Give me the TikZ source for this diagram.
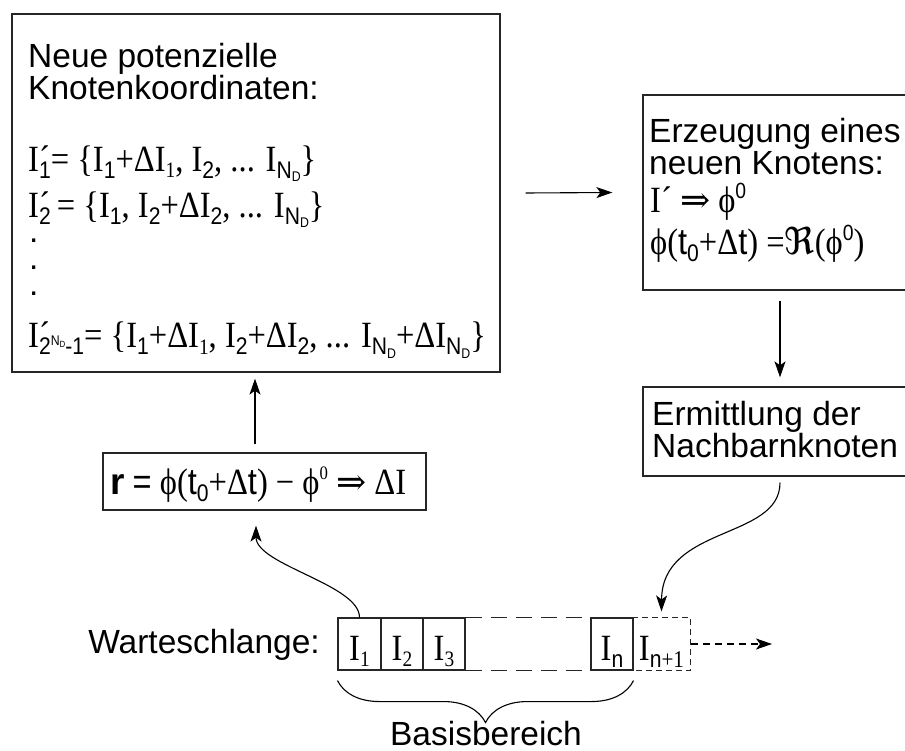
\documentclass[tikz,border=0pt]{standalone}
\usepackage{fontspec}
\setmainfont{Liberation Sans}
\newfontfamily\ser[FakeStretch=0.88]{Liberation Serif}
\newfontfamily\san{Liberation Sans}
\newfontfamily\sanC[FakeStretch=0.88]{Liberation Sans}
\newfontfamily\dvs{DejaVu Serif}
\newfontfamily\dvsans{DejaVu Sans}
\usetikzlibrary{arrows.meta,decorations.pathreplacing,calc}
\newcommand\tsz{\san\fontsize{33.5}{33.5}\selectfont}
\newcommand\fsz{\ser\fontsize{37}{37}\selectfont}
\newcommand\sbS[1]{\raisebox{-7pt}{\sanC\fontsize{24}{24}\selectfont #1}}
\newcommand\sbR[1]{\raisebox{-6pt}{\ser\fontsize{22}{22}\selectfont #1}}
\newcommand\spS[1]{\raisebox{14pt}{\sanC\fontsize{22}{22}\selectfont #1}}
\newcommand\spR[1]{\raisebox{15pt}{\ser\fontsize{19}{19}\selectfont #1}}
\newcommand\iND{\sbS{N\raisebox{-3pt}{\fontsize{14}{14}\selectfont D}}}
\newcommand\iPr[1]{I\rlap{´}\sbS{#1}}
\newcommand\impl{{\dvs\fontsize{36}{36}\selectfont ⇒}}
\newcommand\fraktR{{\dvsans ℜ}}
\newcommand\phiS{ϕ}
\begin{document}
\begin{tikzpicture}[x=1pt,y=-1pt,
  bx/.style={draw=black!85, line width=1.3pt, inner sep=0pt, rectangle},
  tx/.style={inner sep=0pt, anchor=base west, font=\tsz},
  fx/.style={inner sep=0pt, anchor=base west, font=\fsz},
  arr/.style={line width=1.1pt, -{Stealth[length=16pt,width=11pt,inset=4pt]}},
  cell/.style={draw=black!85, line width=1.1pt, inner sep=0pt, minimum height=52pt,
    text height=32pt, text depth=0pt, font=\fsz},
  qdash/.style={draw=black!85, line width=1.1pt, dash pattern=on 16pt off 9pt}]
\useasboundingbox (0,0) rectangle (905,751);

% boxes
\node[bx, minimum width=488pt, minimum height=358pt] (big) at (256,193) {};
\node[bx, minimum width=274pt, minimum height=195pt] (erz) at (780,192.5) {};
\node[bx, minimum width=274pt, minimum height=89pt] (erm) at (780,431.5) {};
\node[bx, minimum width=323pt, minimum height=57pt] (rbox) at (264.5,481.5) {};

% big box text
\node[tx] (t1) at (28,68) {Neue potenzielle};
\node[tx] (t2) at (28,100) {Knotenkoordinaten:};
\node[fx] (f1) at (28,172) {\iPr{1}= \{I\sbS{1}+ΔI\sbR{1}, I\sbS{2}, ... I\iND\}};
\node[fx] (f2) at (28,218) {\iPr{2}\,= \{I\sbS{1}, I\sbS{2}+ΔI\sbS{2}, ... I\iND\}};
\node[tx] (d1) at (29,243) {.};
\node[tx] (d2) at (29,270) {.};
\node[tx] (d3) at (29,296) {.};
\node[fx] (f3) at (28,348) {I\rlap{´}\sbS{2\raisebox{9pt}{\fontsize{14}{14}\selectfont N\raisebox{-2pt}{\fontsize{9}{9}\selectfont D}}-1}= \{I\sbS{1}+ΔI\sbR{1}, I\sbS{2}+ΔI\sbS{2}, ... I\iND+ΔI\iND\}};

% Erzeugung box text
\node[tx] (e1) at (649,143) {Erzeugung eines};
\node[tx] (e2) at (649,175) {neuen Knotens:};
\node[fx] (e3) at (650,213) {I´ \impl{} \phiS\spS{0}};
\node[fx] (e4) at (650,255) {\phiS({\sanC t}\sbS{0}+Δ{\sanC t}) =\fraktR(\phiS\spS{0})};

% Ermittlung box text
\node[tx] (m1) at (652,425) {Ermittlung der};
\node[tx] (m2) at (652,457) {Nachbarnknoten};

% r box text
\node[fx] (rt) at (110,494) {{\san\bfseries r} {\sanC =} \phiS({\sanC t}\sbS{0}+Δ{\sanC t}) − \phiS\spR{0} \impl{} ΔI};

% queue
\node[tx, anchor=base east] (wl) at (320,653) {Warteschlange:};
\node[cell, minimum width=43pt] (q1) at (359.5,644) {I\sbR{1}};
\node[cell, minimum width=42pt] (q2) at (402,644) {I\sbR{2}};
\node[cell, minimum width=42pt] (q3) at (444,644) {I\sbR{3}};
\node[cell, minimum width=42pt] (qn) at (612,644) {I\sbS{n}};
\node[cell, minimum width=57pt, draw=none] (qn1) at (661.5,644) {I\sbS{n{\ser+1}}};
\draw[draw=black!85, line width=1.1pt, dash pattern=on 6pt off 4pt]
  (qn1.north west) -- (qn1.north east) -- (qn1.south east) -- (qn1.south west);
\draw[qdash] (q3.north east) -- (qn.north west);
\draw[qdash] (q3.south east) -- (qn.south west);
\coordinate (qe) at (772,644);
\draw[arr, dash pattern=on 7pt off 5pt] (qn1.east) -- (qe);

% brace
\draw[line width=1.1pt, decorate, decoration={brace, mirror, amplitude=42pt, aspect=0.5}]
  ($(q1.south west)+(0,10)$) -- ($(qn.south east)+(0,10)$);
\node[tx, anchor=base] (bb) at (486,745) {Basisbereich};

% connectors
\draw[arr] ($(big.east)+(25,0)$) -- ($(erz.west)+(-30,0)$);
\draw[arr] ($(erz.south)+(0,10)$) -- ($(erm.north)+(0,-9)$);
\coordinate (a1) at ($(rbox.north)+(-9.5,-8)$);
\draw[arr] (a1) -- ($(a1 |- big.south)+(0,6)$);
\draw[arr] (q1.north) .. controls ($(q1.north)+(0,-33)$) and (256,565) .. ($(rbox.south)+(-8.5,15)$);
\draw[arr] ($(erm.south)+(0,6)$) .. controls (780,540) and (662,525) .. ($(qn1.north)+(0,-6)$);
\end{tikzpicture}
\end{document}
